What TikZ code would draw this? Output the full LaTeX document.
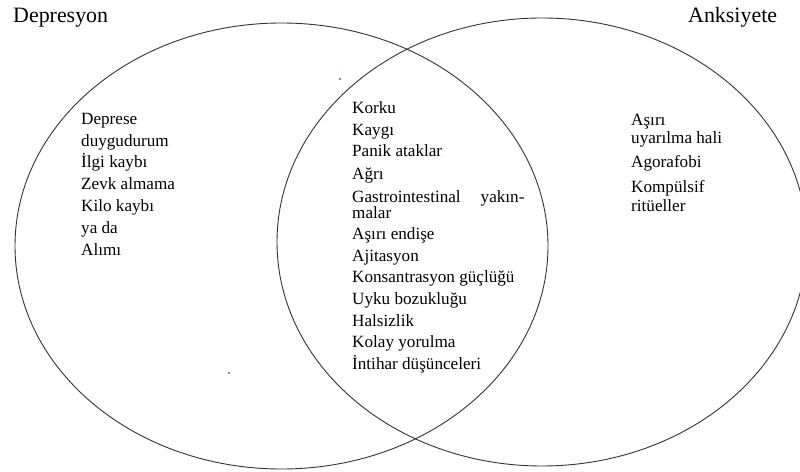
\documentclass[tikz,border=0pt]{standalone}
\usepackage{fontspec}
\setmainfont{Liberation Serif}
\begin{document}
\begin{tikzpicture}[x=1bp,y=-1bp,
  ring/.style={draw=black!80, line width=0.9bp},
  title/.style={font=\fontsize{22}{24}\selectfont, anchor=base west, inner sep=0pt, text=black},
  item/.style={font=\fontsize{17.2}{19}\selectfont, anchor=base west, inner sep=0pt, text=black},
  speck/.style={fill=blue!70!black, draw=none}]
\useasboundingbox (0,0) rectangle (800,472);
\fill[white] (0,0) rectangle (800,472);
\begin{scope}
\clip (0,0) rectangle (800,472);
\draw[ring] (281.5,246) ellipse [x radius=266.5, y radius=223];
\draw[ring] (542,242) ellipse [x radius=265, y radius=224];
\end{scope}
\fill[speck] (340,79) circle (0.9);
\fill[speck] (229,373) circle (0.9);
% titles
\node[title] (dep) at (13,23) {Depresyon};
\node[title] (ank) at (688,23) {Anksiyete};
% left column
\node[item] (l1) at (81,125) {Deprese};
\node[item] (l2) at (81,147) {duygudurum};
\node[item] (l3) at (81,168) {İlgi kaybı};
\node[item] (l4) at (81,190) {Zevk almama};
\node[item] (l5) at (81,212) {Kilo kaybı};
\node[item] (l6) at (81,234) {ya da};
\node[item] (l7) at (81,256) {Alımı};
% centre column
\node[item] (c1) at (352,114) {Korku};
\node[item] (c2) at (352,136) {Kaygı};
\node[item] (c3) at (352,157) {Panik ataklar};
\node[item] (c4) at (352,180) {Ağrı};
\node[item] (c5) at (352,203) {Gastrointestinal\hspace{20bp}yakın-};
\node[item] (c6) at (352,219) {malar};
\node[item] (c7) at (352,240) {Aşırı endişe};
\node[item] (c8) at (352,262) {Ajitasyon};
\node[item] (c9) at (352,283) {Konsantrasyon güçlüğü};
\node[item] (c10) at (352,305) {Uyku bozukluğu};
\node[item] (c11) at (352,327) {Halsizlik};
\node[item] (c12) at (352,348) {Kolay yorulma};
\node[item] (c13) at (352,370) {İntihar düşünceleri};
% right column
\node[item] (r1) at (631,126) {Aşırı};
\node[item] (r2) at (631,144) {uyarılma hali};
\node[item] (r3) at (631,168) {Agorafobi};
\node[item] (r4) at (631,193) {Kompülsif};
\node[item] (r5) at (631,212) {ritüeller};
\end{tikzpicture}
\end{document}
